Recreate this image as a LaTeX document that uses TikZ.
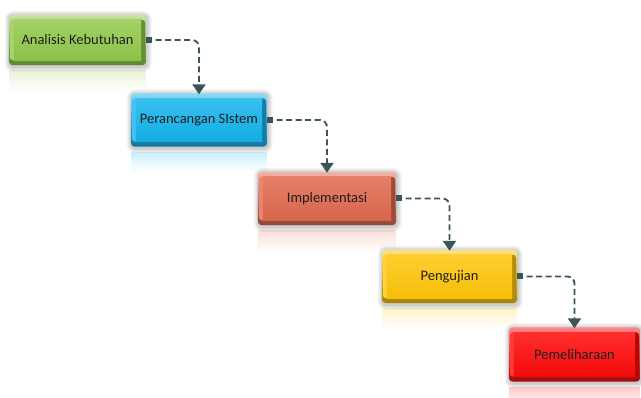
\documentclass[tikz,border=0pt]{standalone}
\usepackage{fontspec}
\setmainfont{Carlito}
\usetikzlibrary{arrows.meta,fadings}
\pgfdeclarelayer{bg}
\pgfsetlayers{bg,main}
\definecolor{cgreen}{HTML}{92C94A}
\definecolor{cblue}{HTML}{14B4EC}
\definecolor{corange}{HTML}{E0694E}
\definecolor{cyellow}{HTML}{FFC60A}
\definecolor{cred}{HTML}{FF0A0A}
\definecolor{conn}{HTML}{3B5556}
\tikzfading[name=reflfade, top color=transparent!60, bottom color=transparent!100]
\tikzset{
  stepbox/.style={minimum width=136pt, minimum height=51pt, inner sep=0pt,
    font=\fontsize{14.5}{16}\selectfont, text=black!88},
  flow/.style={conn, line width=1.9pt, dash pattern=on 6pt off 3.5pt, rounded corners=7pt,
    -{Triangle[length=10pt,width=13pt]}},
  startsq/.style={fill=conn, minimum size=6pt, inner sep=0pt, outer sep=0pt}
}
\newcommand{\bevelbox}[2]{%
  \begin{pgfonlayer}{bg}
    \fill[#2!55!white, path fading=reflfade] ([yshift=-5pt]#1.south west) rectangle ([yshift=-26pt]#1.south east);
    \foreach \g in {1,2,3,4,5}{
      \fill[black, opacity=0.045, rounded corners=4pt+\g pt] ([shift={(-\g pt+1pt,\g pt-1pt)}]#1.north west) rectangle ([shift={(\g pt+0.5pt,-\g pt-1.5pt)}]#1.south east);
    }
    \shade[rounded corners=4pt, top color=#2!50!white, bottom color=#2!65!black] (#1.north west) rectangle (#1.south east);
    \shade[left color=#2!80!white, right color=#2!70!black, middle color=#2, rounded corners=3pt] ([shift={(1.2pt,-5pt)}]#1.north west) rectangle ([shift={(-1.2pt,5pt)}]#1.south east);
    \shade[top color=#2!85!white, bottom color=#2!96!black] ([shift={(5pt,-5pt)}]#1.north west) rectangle ([shift={(-5pt,5pt)}]#1.south east);
  \end{pgfonlayer}}
\begin{document}
\begin{tikzpicture}[x=1pt,y=-1pt]
\useasboundingbox (0,0) rectangle (641,398);
\node[stepbox, minimum width=137pt, minimum height=50pt] (a) at (77.5,40) {Analisis Kebutuhan};
\node[stepbox, minimum width=136pt, minimum height=53pt] (b) at (199,120) {Perancangan SIstem};
\node[stepbox, minimum width=138pt, minimum height=53pt] (c) at (327,198.5) {Implementasi};
\node[stepbox, minimum width=135pt, minimum height=53pt] (d) at (449.5,276.5) {Pengujian};
\node[stepbox, minimum width=131pt, minimum height=54pt] (e) at (574.5,354.5) {Pemeliharaan};
\bevelbox{a}{cgreen}
\bevelbox{b}{cblue}
\bevelbox{c}{corange}
\bevelbox{d}{cyellow}
\bevelbox{e}{cred}
\foreach \s/\t in {a/b, b/c, c/d, d/e}{
  \node[startsq, anchor=west] (sq\s) at (\s.east) {};
  \draw[flow] (sq\s.west) -| ([yshift=-1pt]\t.north);
}
\end{tikzpicture}
\end{document}
